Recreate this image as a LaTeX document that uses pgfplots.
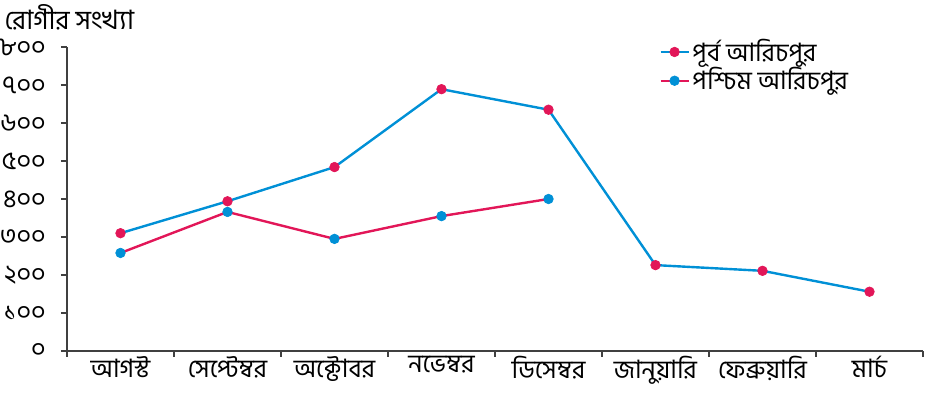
\documentclass[border=0pt]{standalone}
\usepackage{fontspec}
\setmainfont[Script=Bengali]{Hind Siliguri}
\usepackage{pgfplots}
\pgfplotsset{compat=1.18}
\definecolor{cblue}{RGB}{0,144,214}
\definecolor{cred}{RGB}{226,22,88}
\begin{document}
\begin{tikzpicture}
\fontsize{19pt}{21pt}\selectfont
\begin{axis}[
  at={(0,0)}, anchor=south west,
  scale only axis, width=642pt, height=228pt,
  xmin=-0.5, xmax=7.5, ymin=0, ymax=800,
  axis lines=left, axis line style={-, line width=0.8pt, color=black!75},
  xtick={0,...,7},
  xticklabels={আগস্ট, সেপ্টেম্বর, অক্টোবর, নভেম্বর, ডিসেম্বর, জানুয়ারি, ফেব্রুয়ারি, মার্চ},
  major x tick style={draw=none},
  minor xtick={-0.5,0.5,...,7.5},
  minor tick length=4.5pt,
  minor x tick style={line width=0.8pt, color=black!75},
  ytick={0,100,...,800},
  yticklabels={০, ১০০, ২০০, ৩০০, ৪০০, ৫০০, ৬০০, ৭০০, ৮০০},
  major tick length=4.5pt,
  y tick style={line width=0.8pt, color=black!75},
  tick align=outside,
  ticklabel style={font=\fontsize{19pt}{21pt}\selectfont},
  yticklabel style={xshift=-5pt},
  xticklabel style={yshift=7pt},
  legend style={draw=none, fill=none, at={(0.687,1.045)}, anchor=north west,
    font=\fontsize{19pt}{21pt}\selectfont, row sep=-2pt},
  legend cell align=left,
  legend image code/.code={\draw[mark repeat=2,mark phase=2] plot coordinates {(0cm,0cm)(0.37cm,0cm)(0.74cm,0cm)};},
  clip=false,
]
\addplot[color=cblue, line width=1.8pt, mark=*, mark size=3.6pt, mark options={fill=cred, draw=cred, line width=0.5pt}]
  coordinates {(0,310) (1,394) (2,484) (3,689) (4,635) (5,226) (6,211) (7,156)};
\addlegendentry{পূর্ব আরিচপুর}
\addplot[color=cred, line width=1.8pt, mark=*, mark size=3.6pt, mark options={fill=cblue, draw=cblue, line width=0.5pt}]
  coordinates {(0,258) (1,366) (2,295) (3,355) (4,400)};
\addlegendentry{পশ্চিম আরিচপুর}
\end{axis}
\node[anchor=west, inner sep=0pt, font=\fontsize{20pt}{22pt}\selectfont] at (-47pt,250pt) {রোগীর সংখ্যা};
\pgfresetboundingbox
\path (-50.25pt,-35.25pt) rectangle (652.5pt,263.25pt);
\end{tikzpicture}
\end{document}
